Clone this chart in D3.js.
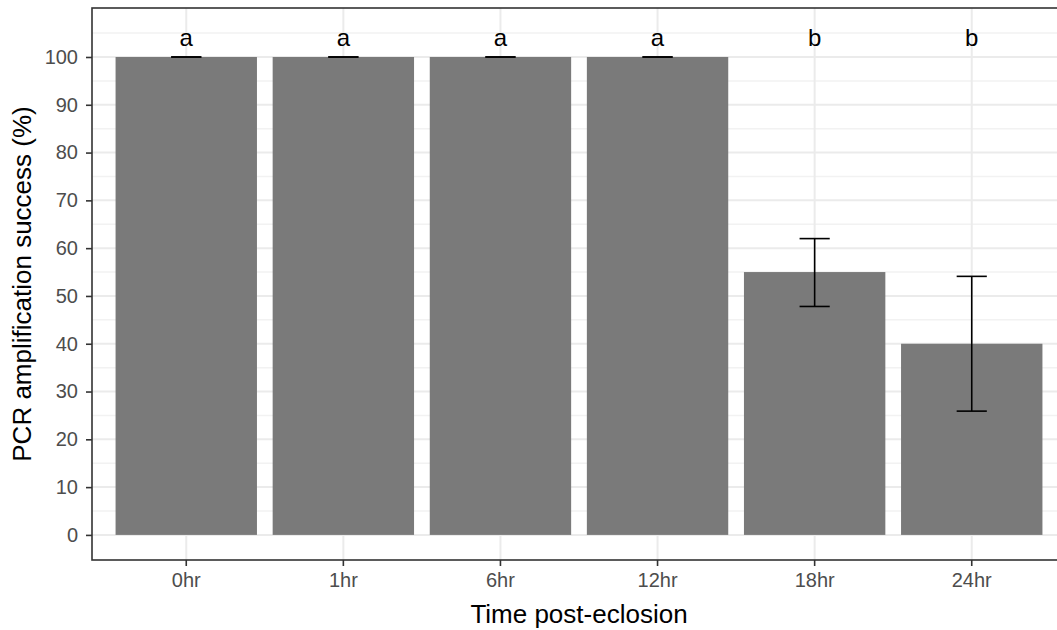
<!DOCTYPE html>
<html>
<head>
<meta charset="utf-8">
<script src="https://cdn.jsdelivr.net/npm/d3@7"></script>
<style>
  body { margin: 0; background: #fff; }
  svg { display: block; font-family: "Liberation Sans", Arial, sans-serif; }
</style>
</head>
<body>
<svg id="chart" width="1057" height="630"></svg>
<script>
// data
const categories = ['0hr', '1hr', '6hr', '12hr', '18hr', '24hr'];
const success = [100, 100, 100, 100, 55, 40];
const errLow = [100, 100, 100, 100, 47.8, 25.9];
const errHigh = [100, 100, 100, 100, 62, 54.1];
const letters = ['a', 'a', 'a', 'a', 'b', 'b'];
const yTicks = [0, 10, 20, 30, 40, 50, 60, 70, 80, 90, 100];
const yMinor = [5, 15, 25, 35, 45, 55, 65, 75, 85, 95, 105];

const svg = d3.select('#chart');

// panel box (right edge runs past the picture, as in the reference)
const pLeft = 92, pTop = 8, pBottom = 560, pRight = 1066;

const x = d3.scaleBand()
  .domain(categories)
  .range([pLeft, pRight])
  .paddingInner(0.1)
  .paddingOuter(0.15);

const y = d3.scaleLinear()
  .domain([-5.25, 110.25])
  .range([pBottom, pTop]);

const step = x.step();
const center = (c) => x(c) + x.bandwidth() / 2;

// Grid
const grid = svg.append('g');
grid.selectAll('.minor')
  .data(yMinor)
  .enter()
  .append('line')
  .attr('x1', pLeft).attr('x2', pRight)
  .attr('y1', d => y(d)).attr('y2', d => y(d))
  .attr('stroke', '#F2F2F2')
  .attr('stroke-width', 1.5);

grid.selectAll('.major')
  .data(yTicks)
  .enter()
  .append('line')
  .attr('x1', pLeft).attr('x2', pRight)
  .attr('y1', d => y(d)).attr('y2', d => y(d))
  .attr('stroke', '#EBEBEB')
  .attr('stroke-width', 2);

grid.selectAll('.vmajor')
  .data(categories)
  .enter()
  .append('line')
  .attr('x1', d => center(d)).attr('x2', d => center(d))
  .attr('y1', pTop).attr('y2', pBottom)
  .attr('stroke', '#EBEBEB')
  .attr('stroke-width', 2);

// Bars
const rows = categories.map((c, i) => ({
  cat: c, v: success[i], lo: errLow[i], hi: errHigh[i], lab: letters[i]
}));

svg.append('g')
  .selectAll('rect')
  .data(rows)
  .enter()
  .append('rect')
  .attr('x', d => x(d.cat))
  .attr('width', x.bandwidth())
  .attr('y', d => y(d.v))
  .attr('height', d => y(0) - y(d.v))
  .attr('fill', '#7A7A7A');

// Error bars
const capHalf = step * 0.096;
const eb = svg.append('g')
  .attr('stroke', '#000')
  .attr('stroke-width', 1.6)
  .attr('fill', 'none');

eb.selectAll('.stem')
  .data(rows)
  .enter()
  .append('line')
  .attr('x1', d => center(d.cat)).attr('x2', d => center(d.cat))
  .attr('y1', d => y(d.lo)).attr('y2', d => y(d.hi));

eb.selectAll('.capHi')
  .data(rows)
  .enter()
  .append('line')
  .attr('x1', d => center(d.cat) - capHalf).attr('x2', d => center(d.cat) + capHalf)
  .attr('y1', d => y(d.hi)).attr('y2', d => y(d.hi));

eb.selectAll('.capLo')
  .data(rows)
  .enter()
  .append('line')
  .attr('x1', d => center(d.cat) - capHalf).attr('x2', d => center(d.cat) + capHalf)
  .attr('y1', d => y(d.lo)).attr('y2', d => y(d.lo));

// Significance letters
svg.append('g')
  .selectAll('text')
  .data(rows)
  .enter()
  .append('text')
  .attr('x', d => center(d.cat))
  .attr('y', y(105))
  .attr('dy', '0.55em')
  .attr('text-anchor', 'middle')
  .attr('font-size', '24px')
  .attr('fill', '#000')
  .text(d => d.lab);

// Panel border
svg.append('rect')
  .attr('x', pLeft).attr('y', pTop)
  .attr('width', pRight - pLeft).attr('height', pBottom - pTop)
  .attr('fill', 'none')
  .attr('stroke', '#333333')
  .attr('stroke-width', 1.6);

// Axes
const yAxis = svg.append('g')
  .attr('transform', `translate(${pLeft},0)`)
  .call(d3.axisLeft(y).tickValues(yTicks).tickSize(6).tickPadding(8));
const xAxis = svg.append('g')
  .attr('transform', `translate(0,${pBottom})`)
  .call(d3.axisBottom(x).tickSize(6).tickPadding(7));

[yAxis, xAxis].forEach(a => {
  a.select('.domain').remove();
  a.selectAll('.tick line').attr('stroke', '#333333').attr('stroke-width', 1.6);
  a.selectAll('.tick text')
    .attr('fill', '#4D4D4D')
    .attr('font-size', '20px')
    .attr('font-family', '"Liberation Sans", Arial, sans-serif');
});

// Axis titles
svg.append('text')
  .attr('x', (pLeft + pRight) / 2)
  .attr('y', 623)
  .attr('text-anchor', 'middle')
  .attr('font-size', '26px')
  .attr('fill', '#000')
  .text('Time post-eclosion');

svg.append('text')
  .attr('transform', `translate(31,${(pTop + pBottom) / 2}) rotate(-90)`)
  .attr('text-anchor', 'middle')
  .attr('font-size', '26px')
  .attr('fill', '#000')
  .text('PCR amplification success (%)');
</script>
</body>
</html>
